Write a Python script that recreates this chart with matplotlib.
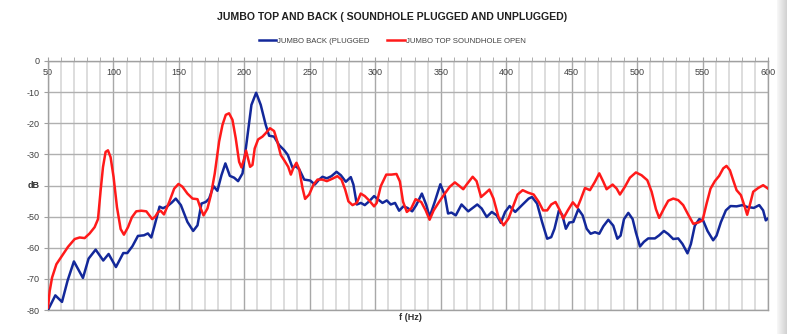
import numpy as np
import matplotlib
matplotlib.use("Agg")
import matplotlib.pyplot as plt
from matplotlib.ticker import MultipleLocator

plt.rcParams['font.family'] = ['Liberation Sans', 'DejaVu Sans']

# JUMBO BACK (plugged) - blue
back_f = [50, 55.6, 60.7, 65, 69.8, 76.7, 81, 86.4, 92.2, 96.3, 101.9, 107.5, 110.6, 114.5,
          118.7, 123.3, 126.3, 128.9, 131.4, 135.2, 137.8, 141.3, 144.5, 147.6, 151.5, 156.5,
          160.9, 164.2, 167.2, 170.5, 173.1, 176.4, 179.4, 182.5, 185.5, 188.9, 192.2, 195.2,
          198.6, 201.8, 205.4, 209.0, 212.5, 216.3, 218.9, 222.7, 226.5, 230.3, 233.2, 236.8,
          239.3, 241.9, 245.7, 250.3, 253.8, 257.1, 259.7, 263, 266.5, 270.4, 273.7, 277.5,
          281.3, 283.3, 285.9, 289, 292, 295.3, 299.1, 302.2, 305.5, 308.8, 311.8, 315.1,
          318.2, 321.5, 324.6, 328.2, 331.3, 335.6, 339, 341.5, 345.4, 349.7, 353.1, 355.6,
          358.2, 361.5, 365.9, 371, 377.9, 381.3, 385.1, 389, 392.8, 395.9, 399.2, 402.6,
          406.9, 412.1, 417.2, 419.7, 423.6, 427.4, 431.3, 434.4, 436.9, 440.3, 442.8, 445.6,
          448.2, 451.3, 455.1, 458.4, 461.5, 464.5, 467.8, 471.1, 474.2, 478, 481.8, 484.9,
          487.4, 490, 493.3, 496.6, 499.1, 502.2, 505.2, 508.5, 513.6, 516.9, 520.5, 523.8,
          527.6, 531.4, 534.7, 538.5, 541.1, 544.1, 547.5, 550.5, 553.8, 558.1, 560.7, 564,
          567.8, 571.4, 576, 580.5, 584.1, 589.2, 593.3, 596.3, 598.3, 600]
back_db = [-80, -75.3, -77.4, -70.5, -64.4, -69.7, -63.5, -60.6, -64.1, -62.0, -66.2, -61.7, -61.7, -59.5,
           -56.2, -56.0, -55.4, -56.7, -52.9, -46.8, -47.3, -46.6, -45.5, -44.2, -46.3, -51.7,
           -54.6, -52.8, -45.8, -45.3, -44.2, -40.2, -41.7, -36.7, -32.9, -36.9, -37.5, -38.6,
           -36.1, -25.9, -14.1, -10.2, -14.1, -20.5, -24.0, -24.3, -27.0, -28.6, -30.2, -34.3,
           -33.8, -34.8, -38.1, -38.4, -39.7, -38.1, -37.2, -37.7, -37.0, -35.6, -36.7, -38.8,
           -37.3, -39.7, -46.1, -45.6, -46.3, -45.1, -43.4, -44.5, -45.6, -44.8, -46.1, -45.6,
           -48.1, -46.7, -47.2, -48.3, -46.3, -42.6, -46.3, -50.1, -45.3, -39.6, -43.1, -49.0,
           -48.7, -49.6, -46.1, -48.3, -46.1, -47.4, -50.1, -48.5, -49.6, -52.0, -48.5, -46.6,
           -48.5, -46.3, -44.2, -43.7, -45.8, -51.7, -57.1, -56.6, -53.9, -48.0, -49.4, -53.9,
           -51.9, -51.7, -47.6, -49.6, -53.9, -55.5, -55.0, -55.5, -53.1, -51.0, -52.9, -57.1,
           -56.1, -50.8, -48.8, -50.8, -55.1, -59.6, -58.1, -57.0, -57.0, -56.0, -54.6, -55.6,
           -57.2, -57.0, -58.8, -61.8, -58.8, -52.9, -50.8, -51.3, -54.6, -57.6, -56.1, -51.8,
           -48.0, -46.6, -46.7, -46.3, -46.9, -47.2, -46.3, -48.0, -51.2, -50.6]

# JUMBO TOP soundhole open - red
top_f = [50, 51.3, 53.1, 56.4, 60.2, 65.3, 70.4, 74.2, 78.0, 81.8, 85.6, 88.2, 90.2, 92.0,
         94.0, 95.8, 97.8, 100.1, 102.7, 105.5, 108.0, 111.1, 114.1, 117.4, 121.2, 125.1,
         127.6, 129.6, 131.9, 134, 136, 138.6, 142.7, 146.4, 149.7, 152.7, 156.5, 160.4,
         164.2, 166.2, 168.8, 171.8, 174.4, 177.4, 180.7, 183.3, 185.8, 188.3, 190.9, 193.4,
         196, 197.8, 199.9, 201.3, 202.8, 204.4, 206.2, 207.9, 210.5, 213.8, 216.3, 219.6,
         222.7, 225.2, 227.8, 230.6, 233.5, 235.5, 237.5, 239.8, 241.9, 244.4, 246.4, 249.5,
         252.8, 255.9, 259.7, 263, 267.3, 271.1, 274.2, 277, 279.5, 282.6, 285.9, 288.9,
         292, 295.3, 299.1, 301.1, 304.2, 308.4, 312.3, 316.2, 318.8, 321.2, 324.1, 327.4,
         330.8, 335.1, 338.5, 341.5, 344.6, 348.7, 353.1, 356.9, 360.8, 364.1, 367.2, 370.3,
         374.4, 377.4, 380.8, 383.8, 387.2, 390.3, 394.1, 398, 401.8, 405.1, 408.7, 412.6,
         416.7, 421, 424.9, 428.2, 431.3, 434.4, 437.7, 441, 443.6, 447.2, 450.9, 454.4,
         456.9, 460.2, 464, 467.8, 471.1, 474.2, 476.7, 481.3, 484.4, 486.9, 490.7, 494.5,
         499.1, 503.4, 507.8, 511.1, 514.4, 516.9, 520.5, 523.8, 527.6, 531.4, 535.2, 539.1,
         542.9, 546.7, 550, 553.1, 556.1, 559.4, 562.7, 565.8, 568.3, 570.9, 573.4, 576,
         579.3, 582.3, 584.1, 586.1, 588.7, 592.5, 596.3, 600]
top_db = [-79.2, -73.9, -69.6, -65.3, -62.9, -59.7, -57.2, -56.7, -56.9, -55.4, -53.4, -50.8, -41.6, -34.1,
          -29.2, -28.7, -30.9, -37.3, -47.0, -54.0, -55.8, -53.4, -50.2, -48.3, -48.1, -48.3,
          -49.7, -50.8, -50.0, -48.6, -48.1, -49.3, -45.2, -41.0, -39.5, -40.4, -42.6, -44.2,
          -44.4, -46.9, -49.6, -47.4, -43.1, -36.1, -25.9, -20.5, -17.3, -16.8, -18.9, -24.8,
          -32.4, -34.2, -31.3, -28.8, -31.3, -34.0, -33.4, -28.1, -25.2, -24.3, -23.2, -21.6,
          -22.5, -25.9, -30.2, -32.0, -34.0, -36.5, -34.3, -32.7, -34.8, -40.8, -44.3, -42.9,
          -39.7, -38.1, -38.1, -38.6, -37.8, -37.0, -38.1, -41.3, -45.1, -46.3, -45.6, -42.6,
          -43.4, -44.8, -46.7, -45.6, -40.2, -36.5, -36.5, -36.3, -38.7, -45.2, -48.5, -47.4,
          -44.4, -45.3, -48.0, -51.0, -48.0, -45.3, -42.6, -40.4, -39.0, -40.1, -41.2, -39.4,
          -37.2, -38.6, -43.7, -42.6, -41.3, -44.2, -50.1, -52.8, -50.6, -46.9, -42.9, -41.5,
          -42.3, -42.9, -45.3, -48.0, -48.0, -46.1, -45.3, -48.0, -50.6, -47.9, -45.4, -47.1,
          -44.5, -40.8, -41.5, -38.8, -36.1, -38.8, -41.2, -39.7, -41.0, -42.9, -40.4, -37.5,
          -35.8, -36.7, -38.3, -42.0, -47.6, -50.4, -47.4, -44.9, -44.2, -44.7, -46.3, -49.4,
          -52.3, -51.9, -51.2, -45.8, -41.0, -38.6, -36.9, -34.5, -33.7, -35.1, -38.3, -41.5,
          -43.1, -46.9, -49.4, -46.3, -42.0, -40.8, -39.9, -41.0]

y_ticks = [0, -10, -20, -30, -40, -50, -60, -70, -80]
y_labels = ['0', '-10', '-20', '-30', '', '-50', '-60', '-70', '-80']   # "dB" sits where -40 would be

fig = plt.figure(figsize=(7.87, 3.34), dpi=100)
ax = fig.add_axes([48 / 787, 1 - 310 / 334, 720 / 787, 249 / 334])

ax.plot(back_f, back_db, color='#13289a', lw=1.8, label='JUMBO BACK (PLUGGED', zorder=3)
ax.plot(top_f, top_db, color='#ff1a1a', lw=1.8, label='JUMBO TOP SOUNDHOLE OPEN', zorder=4)

ax.set_xlim(50, 600)
ax.set_ylim(-80, 0)
ax.xaxis.set_major_locator(MultipleLocator(50))
ax.xaxis.set_minor_locator(MultipleLocator(10))
ax.set_yticks(y_ticks)
ax.set_yticklabels(y_labels)

ax.grid(which='minor', axis='x', color='#dadada', lw=1.3)
ax.grid(which='major', axis='x', color='#a8a8a8', lw=1.0)
ax.grid(which='major', axis='y', color='#b0b0b0', lw=1.0)
ax.set_axisbelow(True)
for s in ax.spines.values():
    s.set_color('#a0a0a0')
    s.set_linewidth(1.0)

ax.tick_params(axis='x', which='both', top=True, bottom=False, labeltop=True,
               labelbottom=False, direction='out', color='#a0a0a0')
ax.tick_params(axis='x', which='major', length=3, pad=-14.5, labelsize=6.5, labelcolor='#404040')
ax.tick_params(axis='x', which='minor', length=3)
ax.tick_params(axis='y', which='major', length=3, pad=3, labelsize=6.5,
               labelcolor='#404040', color='#a0a0a0')

fig.text(392 / 787, 1 - 17 / 334, 'JUMBO TOP AND BACK ( SOUNDHOLE PLUGGED AND UNPLUGGED)',
         ha='center', va='center', fontsize=7.6, fontweight='bold', color='#202020')
fig.text(34 / 787, 1 - 186 / 334, 'dB', ha='center', va='center', fontsize=6.5,
         fontweight='bold', color='#303030')
fig.text(410 / 787, 1 - 318 / 334, 'f (Hz)', ha='center', va='center', fontsize=6.5,
         fontweight='bold', color='#303030')

fig.legend(loc='center', bbox_to_anchor=(392 / 787, 1 - 41 / 334), ncol=2, frameon=False,
           fontsize=5.6, handlelength=2.3, handletextpad=0.1, columnspacing=2.2,
           labelcolor='#404040')

# grey window shadow on the right edge
sh = fig.add_axes([777 / 787, 0, 10 / 787, 1])
sh.imshow(np.linspace(0.97, 0.82, 20).reshape(1, -1), aspect='auto', cmap='gray',
          vmin=0, vmax=1, extent=[0, 1, 0, 1])
sh.axis('off')

fig.savefig('out.png', dpi=100)
